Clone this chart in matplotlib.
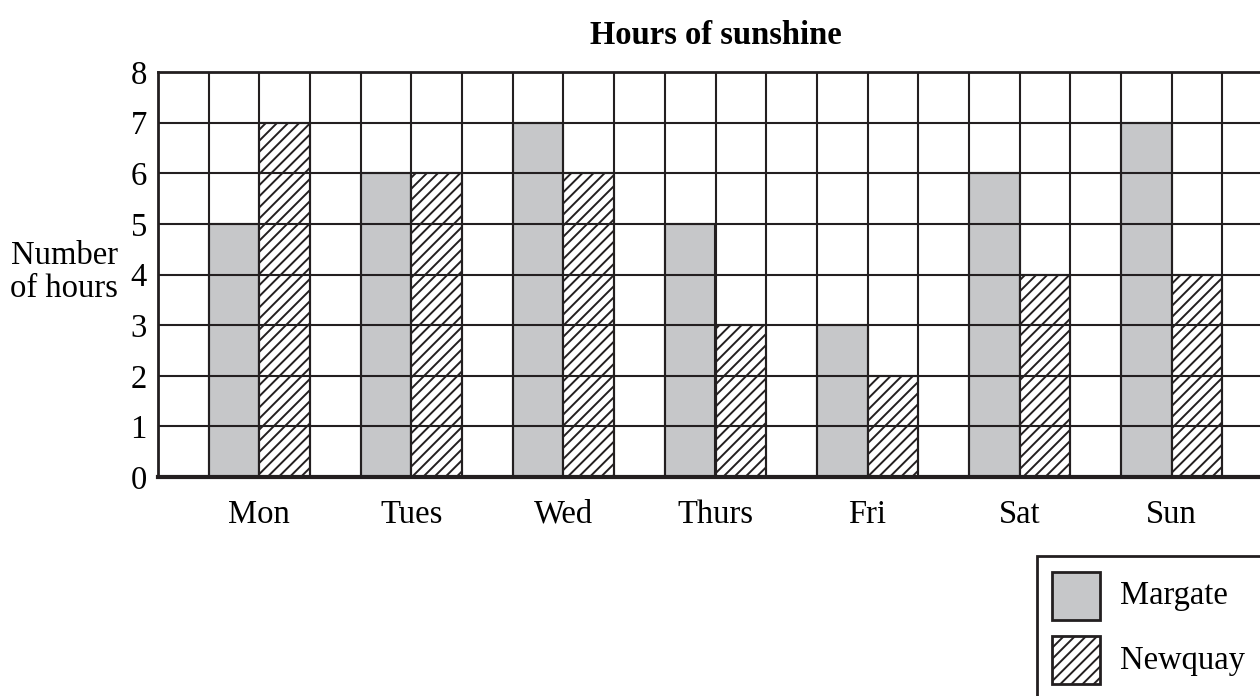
import numpy as np
import matplotlib.pyplot as plt
from matplotlib.patches import Rectangle

days = ["Mon", "Tues", "Wed", "Thurs", "Fri", "Sat", "Sun"]
margate = [5, 6, 7, 5, 3, 6, 7]
newquay = [7, 6, 6, 3, 2, 4, 4]

plt.rcParams["font.family"] = ["Liberation Serif", "DejaVu Serif"]
plt.rcParams["hatch.linewidth"] = 1.4
plt.rcParams["hatch.color"] = "#231f20"

grey = "#c6c7c9"
ink = "#231f20"
fs = 23.5

fig = plt.figure(figsize=(12.6, 6.96), dpi=100)
ax = fig.add_axes([158 / 1260, 219 / 696, 1115 / 1260, 405 / 696])

x = np.arange(len(days)) * 3
ax.bar(x + 1, margate, width=1, align="edge", color=grey, edgecolor=ink, linewidth=1.5, zorder=2)
ax.bar(x + 2, newquay, width=1, align="edge", color="white", edgecolor=ink,
       hatch="///", linewidth=1.5, zorder=2)

ax.set_xlim(0, 22)
ax.set_ylim(0, 8)
for gx in range(1, 22):
    ax.axvline(gx, color=ink, linewidth=1.5, zorder=3)
for gy in range(1, 8):
    ax.axhline(gy, color=ink, linewidth=1.5, zorder=3)

ax.set_xticks(x + 2)
ax.set_xticklabels(days, fontsize=fs)
ax.set_yticks(range(0, 9))
ax.tick_params(axis="y", labelsize=fs, length=0, pad=8)
ax.tick_params(axis="x", length=0, pad=16)
for side in ["left", "top", "right"]:
    ax.spines[side].set_linewidth(2)
    ax.spines[side].set_color(ink)
ax.spines["bottom"].set_linewidth(3)
ax.spines["bottom"].set_color(ink)

ax.set_title("Hours of sunshine", fontsize=fs, fontweight="bold", pad=20)
fig.text(64 / 1260, 1 - 272 / 696, "Number\nof hours", fontsize=fs, ha="center",
         va="center", linespacing=1.1)

# legend box, cut off by the right and bottom edges like the original
fig.add_artist(Rectangle((1037 / 1260, -0.05), 0.2, 1 - 556 / 696 + 0.05,
                         transform=fig.transFigure, facecolor="white",
                         edgecolor=ink, linewidth=2))
fig.add_artist(Rectangle((1052 / 1260, 1 - 620 / 696), 48 / 1260, 48 / 696,
                         transform=fig.transFigure, facecolor=grey,
                         edgecolor=ink, linewidth=2))
fig.add_artist(Rectangle((1052 / 1260, 1 - 684 / 696), 48 / 1260, 48 / 696,
                         transform=fig.transFigure, facecolor="white",
                         edgecolor=ink, linewidth=2, hatch="///"))
fig.text(1120 / 1260, 1 - 596 / 696, "Margate", fontsize=fs, va="center")
fig.text(1120 / 1260, 1 - 661 / 696, "Newquay", fontsize=fs, va="center")

fig.savefig("out.png", dpi=100)
